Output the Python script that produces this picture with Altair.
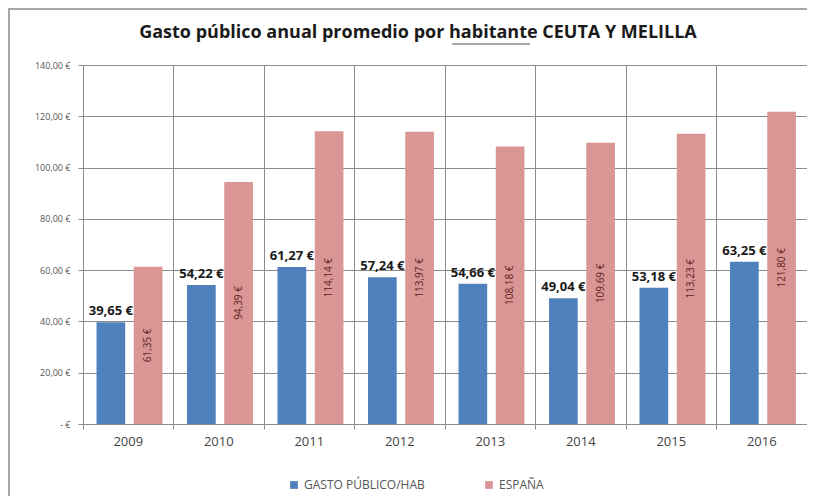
import altair as alt
import pandas as pd

years = ["2009", "2010", "2011", "2012", "2013", "2014", "2015", "2016"]
gasto = [39.65, 54.22, 61.27, 57.24, 54.66, 49.04, 53.18, 63.25]
espana = [61.35, 94.39, 114.14, 113.97, 108.18, 109.69, 113.23, 121.80]
series = ["GASTO PÚBLICO/HAB", "ESPAÑA"]
colors = ["#4F81BD", "#D99694"]
y_ticks = [0, 20, 40, 60, 80, 100, 120, 140]
title_text = ["Gasto público anual promedio por habitante CEUTA Y MELILLA"]

rows = []
for i, yr in enumerate(years):
    rows.append({"year": yr, "serie": series[0], "value": gasto[i]})
    rows.append({"year": yr, "serie": series[1], "value": espana[i]})
df = pd.DataFrame(rows)
df["label"] = df["value"].map(lambda v: f"{v:.2f}".replace(".", ",") + " €")
df["mid"] = df["value"] / 2

W, H = 724, 359

x_enc = alt.X(
    "year:N",
    sort=years,
    scale=alt.Scale(paddingInner=0, paddingOuter=0),
    axis=alt.Axis(
        title=None, bandPosition=0, labelAngle=0,
        grid=True, gridColor="#8c8c8c", gridWidth=1,
        domainColor="#8c8c8c", tickColor="#8c8c8c", tickSize=5,
        labelFont="Open Sans", labelFontSize=13, labelColor="#444444",
        labelPadding=6,
    ),
)
xo_enc = alt.XOffset(
    "serie:N", sort=series,
    scale=alt.Scale(paddingInner=0.23, paddingOuter=0.33, align=0.55),
)
y_scale = alt.Scale(domain=[0, 140], nice=False)

base = alt.Chart(df)

bars = base.mark_bar().encode(
    x=x_enc,
    xOffset=xo_enc,
    y=alt.Y(
        "value:Q", scale=y_scale,
        axis=alt.Axis(
            title=None, values=y_ticks,
            labelExpr="datum.value == 0 ? '-  €' : replace(format(datum.value, '.2f'), '.', ',') + ' €'",
            grid=True, gridColor="#8c8c8c", gridWidth=1,
            domainColor="#8c8c8c", tickColor="#8c8c8c", tickSize=5,
            labelFont="Open Sans", labelFontSize=9, labelColor="#555555",
            labelPadding=8,
        ),
    ),
    color=alt.Color(
        "serie:N", sort=series,
        scale=alt.Scale(domain=series, range=colors),
        legend=alt.Legend(
            title=None, orient="none", direction="horizontal",
            legendX=205, legendY=414, symbolType="square", symbolSize=60,
            symbolStrokeWidth=0,
            labelFont="Open Sans", labelFontSize=12, labelColor="#555555",
            columnPadding=58,
        ),
    ),
)

blue_labels = base.transform_filter(alt.datum.serie == series[0]).mark_text(
    baseline="bottom", dy=-4, fontWeight="bold", fontSize=13,
    font="Open Sans", color="#1a1a1a",
).encode(
    x=alt.X("year:N", sort=years),
    xOffset=alt.XOffset("serie:N", sort=series),
    y=alt.Y("value:Q", scale=y_scale),
    text="label:N",
)

pink_labels = base.transform_filter(alt.datum.serie == series[1]).mark_text(
    angle=270, fontSize=10, font="Open Sans", color="#5e2222",
    baseline="middle", align="center",
).encode(
    x=alt.X("year:N", sort=years),
    xOffset=alt.XOffset("serie:N", sort=series),
    y=alt.Y("mid:Q", scale=y_scale),
    text="label:N",
)

one = pd.DataFrame({"t": title_text})
title = alt.Chart(one).mark_text(
    font="Open Sans", fontSize=18, fontWeight="bold", color="#1a1a1a",
    align="center", baseline="middle",
).encode(x=alt.value(335), y=alt.value(-32), text="t:N")

underline = alt.Chart(one).mark_rule(
    color="#555555", strokeWidth=1.2
).encode(x=alt.value(369), x2=alt.value(447), y=alt.value(-21))

border_top = alt.Chart(one).mark_rule(
    color="#a6a6a6", strokeWidth=2
).encode(x=alt.value(-75), x2=alt.value(W), y=alt.value(-56))
border_left = alt.Chart(one).mark_rule(
    color="#a6a6a6", strokeWidth=2
).encode(x=alt.value(-74), y=alt.value(-56), y2=alt.value(H + 72))

chart = alt.layer(border_top, border_left, title, underline, bars, blue_labels, pink_labels).properties(
    width=W, height=H,
    autosize=alt.AutoSizeParams(type="none"),
    padding={"left": 75, "top": 57, "right": 0, "bottom": 72},
).configure_view(stroke="#8c8c8c", strokeWidth=1).configure(background="white")

chart.save("out.html", embed_options={"renderer": "svg", "actions": False})
